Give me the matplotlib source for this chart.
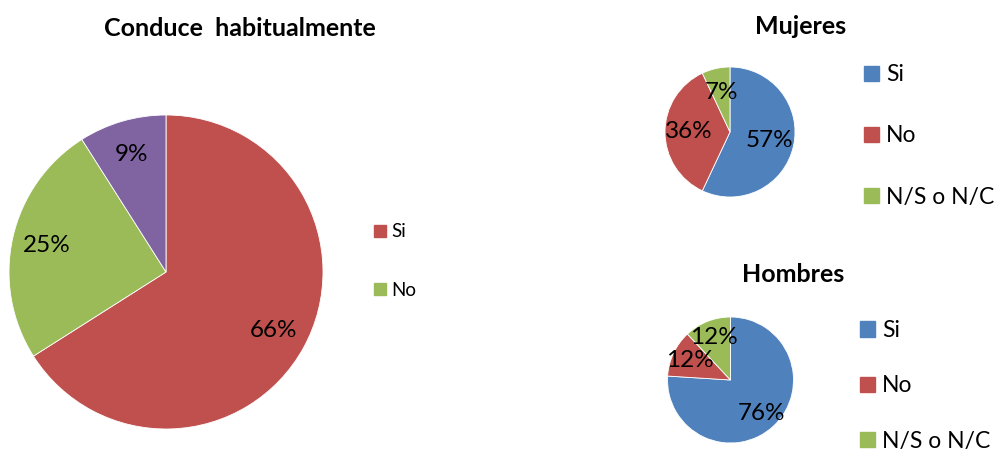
import matplotlib.pyplot as plt
from matplotlib.patches import Patch

plt.rcParams['font.family'] = ['Lato', 'DejaVu Sans']

# --- datos ---
total_labels = ["Si", "No", ""]
total_values = [66, 25, 9]
total_colors = ["#C0504D", "#9BBB59", "#8064A2"]

sexo_labels = ["Si", "No", "N/S o N/C"]
mujeres_values = [57, 36, 7]
hombres_values = [76, 12, 12]
sexo_colors = ["#4F81BD", "#C0504D", "#9BBB59"]

W, H = 994, 457


def box(cx, cy, r):
    # caja en fracciones de figura a partir de centro y radio en pixeles
    return [(cx - r) / W, (H - cy - r) / H, 2 * r / W, 2 * r / H]


def draw_pie(rect, values, colors, pctdist, fsize):
    ax = fig.add_axes(rect)
    ax.pie(values, colors=colors, startangle=90, counterclock=False,
           autopct='%1.0f%%', pctdistance=pctdist,
           wedgeprops=dict(edgecolor='white', linewidth=0.6),
           textprops=dict(fontsize=fsize, color='black'))
    ax.set_xlim(-1, 1)
    ax.set_ylim(-1, 1)
    ax.set_aspect('equal')
    ax.axis('off')
    return ax


fig = plt.figure(figsize=(W / 100, H / 100), dpi=100)

# grafico principal
draw_pie(box(166, 272, 157), total_values, total_colors, 0.78, 17.5)
fig.text(240 / W, 1 - 28 / H, "Conduce  habitualmente", ha='center', va='center',
         fontsize=18, fontweight='bold')
handles = [Patch(color=c, label=l) for c, l in zip(total_colors[:2], total_labels[:2])]
fig.legend(handles=handles, loc='center left', bbox_to_anchor=(365 / W, 1 - 261 / H),
           frameon=False, fontsize=13.5, handlelength=0.6, handleheight=0.6,
           handletextpad=0.3, labelspacing=2.2, borderpad=0)

# mujeres
draw_pie(box(730, 132, 65), mujeres_values, sexo_colors, 0.63, 17.5)
fig.text(801 / W, 1 - 27 / H, "Mujeres", ha='center', va='center',
         fontsize=18, fontweight='bold')
handles = [Patch(color=c, label=l) for c, l in zip(sexo_colors, sexo_labels)]
fig.legend(handles=handles, loc='center left', bbox_to_anchor=(853 / W, 1 - 136 / H),
           frameon=False, fontsize=16.5, handlelength=0.65, handleheight=0.65,
           handletextpad=0.3, labelspacing=1.75, borderpad=0)

# hombres
draw_pie(box(730.5, 380, 63), hombres_values, sexo_colors, 0.72, 17.5)
fig.text(793 / W, 1 - 275 / H, "Hombres", ha='center', va='center',
         fontsize=18, fontweight='bold')
handles = [Patch(color=c, label=l) for c, l in zip(sexo_colors, sexo_labels)]
fig.legend(handles=handles, loc='center left', bbox_to_anchor=(849 / W, 1 - 386 / H),
           frameon=False, fontsize=16.5, handlelength=0.65, handleheight=0.65,
           handletextpad=0.3, labelspacing=1.5, borderpad=0)

fig.savefig("out.png", dpi=100)
